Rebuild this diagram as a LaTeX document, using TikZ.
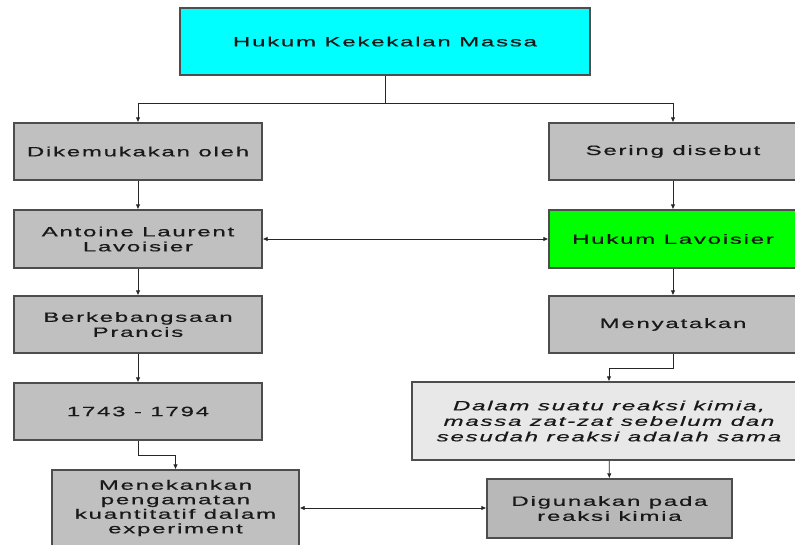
\documentclass[tikz,border=0pt]{standalone}
\usepackage{fontspec}
\setmainfont{Liberation Sans}[FakeStretch=1.78,LetterSpace=13,FakeBold=0.6]
\usetikzlibrary{arrows.meta}
\definecolor{boxgray}{HTML}{C0C0C0}
\definecolor{darkgray2}{HTML}{B8B8B8}
\definecolor{lightgray2}{HTML}{E8E8E8}
\definecolor{bordergray}{HTML}{4D4D4D}
\definecolor{topcyan}{HTML}{00FFFF}
\definecolor{lavgreen}{HTML}{00FF00}
\begin{document}
\begin{tikzpicture}[x=1pt,y=-1pt,
  font=\fontsize{13.5}{15}\selectfont,
  box/.style={draw=bordergray, line width=1.3pt, fill=boxgray, align=center, inner sep=0pt, text=black!90},
  conn/.style={draw=black!85, line width=0.8pt},
  arr/.style={conn, -{Latex[length=5pt,width=4.5pt]}},
  darr/.style={conn, {Latex[length=5pt,width=4.5pt]}-{Latex[length=5pt,width=4.5pt]}}]
\useasboundingbox (0,0) rectangle (795,544);
\clip (0,0) rectangle (795,544);
\fill[white] (0,0) rectangle (795,544);

\node[box, fill=topcyan, minimum width=410pt, minimum height=67pt] (top) at (385,41.5) {Hukum Kekekalan Massa};
\node[box, minimum width=248pt, minimum height=57pt] (dik) at (138,151.5) {Dikemukakan oleh};
\node[box, minimum width=248pt, minimum height=57pt] (sering) at (673,151.5) {Sering disebut};
\node[box, minimum width=248pt, minimum height=58pt] (antoine) at (138,239) {Antoine Laurent\\Lavoisier};
\node[box, fill=lavgreen, minimum width=248pt, minimum height=58pt] (hlav) at (673,239) {Hukum Lavoisier};
\node[box, minimum width=248pt, minimum height=57pt] (berk) at (138,324.5) {Berkebangsaan\\Prancis};
\node[box, minimum width=248pt, minimum height=57pt] (meny) at (673,324.5) {Menyatakan};
\node[box, minimum width=248pt, minimum height=57pt] (year) at (138,411.5) {1743 - 1794};
\node[box, fill=lightgray2, minimum width=394pt, minimum height=78pt, font=\fontsize{13.5}{15.5}\selectfont\itshape] (dalam) at (609,421) {Dalam suatu reaksi kimia,\\massa zat-zat sebelum dan\\sesudah reaksi adalah sama};
\node[box, fill=darkgray2, minimum width=245pt, minimum height=59pt] (dig) at (609.5,508.5) {Digunakan pada\\reaksi kimia};
\node[box, minimum width=247pt, minimum height=76pt, font=\fontsize{13.5}{14.5}\selectfont] (men) at (175.5,508) {Menekankan\\pengamatan\\kuantitatif dalam\\experiment};

\draw[conn] (top.south) -- ++(0,28) coordinate (split);
\draw[arr] (split) -| (dik.north);
\draw[arr] (split) -| (sering.north);
\draw[arr] (dik) -- (antoine);
\draw[arr] (sering) -- (hlav);
\draw[darr] (antoine) -- (hlav);
\draw[arr] (antoine) -- (berk);
\draw[arr] (berk) -- (year);
\draw[arr] (year.south) -- ++(0,15) -| (men.north);
\draw[arr] (hlav) -- (meny);
\draw[arr] (meny.south) -- ++(0,15) -| (dalam.north);
\draw[arr] (dalam) -- (dig);
\draw[darr] (men.east) -- (men.east -| dig.west);
\end{tikzpicture}
\end{document}
